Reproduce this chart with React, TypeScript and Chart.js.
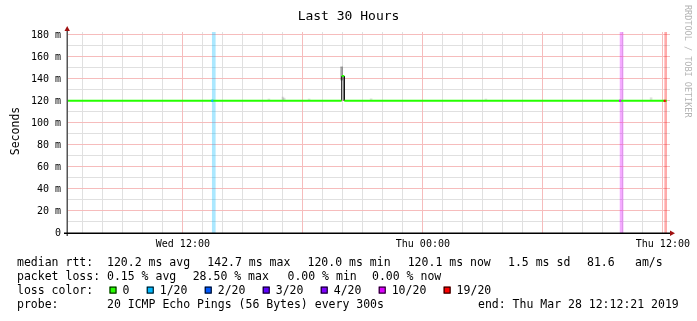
import React, { useEffect, useRef } from 'react';
import { Chart, registerables } from 'chart.js';

Chart.register(...registerables);

// ---------- text ----------
const titleText = 'Last 30 Hours';
const yAxisTitle = 'Seconds';
const watermark = 'RRDTOOL / TOBI OETIKER';

// ---------- axes (hours counted from Wed 00:00) ----------
const startHour = 6.206; // Wed 06:12:21
const endHour = 36.206; // Thu 12:12:21
const yMax = 182.7; // milliseconds
const yTicks = [0, 10, 20, 30, 40, 50, 60, 70, 80, 90, 100, 110, 120, 130, 140, 150, 160, 170, 180];
const hourTicks = [7, 8, 9, 10, 11, 12, 13, 14, 15, 16, 17, 18, 19, 20, 21, 22, 23, 24, 25, 26, 27, 28, 29, 30, 31, 32, 33, 34, 35, 36];
const xLabelHours = [12, 24, 36];
const xLabelTexts = ['Wed 12:00', 'Thu 00:00', 'Thu 12:00'];

// ---------- median rtt (ms) ----------
const medianHours = [6.21, 8, 10, 12, 14, 16, 18, 19.94, 19.94, 19.94, 20.07, 20.07, 20.07, 22, 24, 26, 28, 30, 32, 34, 36.2];
const medianValues = [120.2, 120.2, 120.1, 120.2, 120.2, 120.2, 120.1, 120.2, null, 142.7, 142.7, null, 120.2, 120.2, 120.1, 120.2, 120.2, 120.2, 120.1, 120.2, 120.1];

// spike edges (drawn dark)
const spikeHours = [19.94, 19.94, 19.94, 20.07, 20.07];
const spikeValues = [120.2, 142.7, null, 142.7, 120.2];

// smoke (spread of pings)
const smokeHours = [16.35, 17.05, 17.12, 18.36, 19.99, 21.46, 27.2, 35.46];
const smokeLow = [120.4, 120.4, 120.4, 120.4, 139.0, 120.4, 120.4, 120.4];
const smokeHigh = [121.8, 123.6, 122.6, 121.8, 151.0, 122.0, 121.8, 123.0];

// loss events
const lossHours = [13.47, 33.86, 36.09];
const lossEventLevels = ['1/20', '10/20', '19/20'];
const lossEventMedian = [120.2, 120.2, 120.1];

// loss colour legend
const lossLevelLabels = ['0', '1/20', '2/20', '3/20', '4/20', '10/20', '19/20'];
const lossLevelColors = ['#26ff00', '#00b8ff', '#0059ff', '#5e00ff', '#7e00ff', '#dd00ff', '#ff0000'];

// statistics
const rttLabel = 'median rtt:';
const rttStats = ['120.2 ms avg', '142.7 ms max', '120.0 ms min', '120.1 ms now', '1.5 ms sd', '81.6', 'am/s'];
const lossLabel = 'packet loss:';
const lossStats = ['0.15 % avg', '28.50 % max', '0.00 % min', '0.00 % now'];
const colorLabel = 'loss color:';
const probeLabel = 'probe:';
const probeText = '20 ICMP Echo Pings (56 Bytes) every 300s';
const endText = 'end: Thu Mar 28 12:12:21 2019';

// ---------- styles ----------
const MONO = '"DejaVu Sans Mono", monospace';
const W = 697;
const H = 321;
const MINOR_GRID = '#e0e0e0';
const MAJOR_GRID = '#f6bcbc';

function levelColor(level: string) {
  return lossLevelColors[lossLevelLabels.indexOf(level)];
}
function lighten(hex: string, a: number) {
  const r = parseInt(hex.slice(1, 3), 16);
  const g = parseInt(hex.slice(3, 5), 16);
  const b = parseInt(hex.slice(5, 7), 16);
  return `rgba(${r},${g},${b},${a})`;
}

const gridPlugin = {
  id: 'rrdGrid',
  beforeDatasetsDraw(chart: any) {
    const ctx = chart.ctx as CanvasRenderingContext2D;
    const area = chart.chartArea;
    const xs = chart.scales.x;
    const ys = chart.scales.y;
    ctx.save();
    for (const pass of [0, 1]) {
      hourTicks.forEach((h) => {
        const major = h % 6 === 0;
        if ((pass === 1) !== major) return;
        const px = Math.floor(xs.getPixelForValue(h));
        ctx.fillStyle = major ? MAJOR_GRID : MINOR_GRID;
        ctx.fillRect(px, area.top, 1, area.bottom - area.top);
      });
      yTicks.forEach((v) => {
        const major = v % 20 === 0;
        if ((pass === 1) !== major) return;
        const py = Math.floor(ys.getPixelForValue(v));
        ctx.fillStyle = major ? MAJOR_GRID : MINOR_GRID;
        ctx.fillRect(area.left, py, area.right - area.left + 3, 1);
      });
    }
    ctx.restore();
  },
};

const decorPlugin = {
  id: 'rrdDecor',
  afterDraw(chart: any) {
    const ctx = chart.ctx as CanvasRenderingContext2D;
    const area = chart.chartArea;
    ctx.save();

    // axes
    ctx.fillStyle = '#555';
    ctx.fillRect(area.left - 0.5, area.top - 4, 1.5, area.bottom - area.top + 7);
    ctx.fillStyle = '#000';
    ctx.fillRect(area.left - 3, area.bottom - 0.5, area.right - area.left + 6, 1.5);
    // arrows
    ctx.fillStyle = '#a01010';
    ctx.beginPath();
    ctx.moveTo(area.left + 0.2, area.top - 6);
    ctx.lineTo(area.left - 2.5, area.top - 1);
    ctx.lineTo(area.left + 2.9, area.top - 1);
    ctx.closePath();
    ctx.fill();
    ctx.beginPath();
    ctx.moveTo(area.right + 8, area.bottom + 0.2);
    ctx.lineTo(area.right + 3, area.bottom - 2.5);
    ctx.lineTo(area.right + 3, area.bottom + 2.9);
    ctx.closePath();
    ctx.fill();

    // title
    ctx.fillStyle = '#000';
    ctx.font = `13px ${MONO}`;
    ctx.textAlign = 'center';
    ctx.textBaseline = 'alphabetic';
    ctx.fillText(titleText, 348.5, 20);

    // y axis title
    ctx.save();
    ctx.translate(18.5, 131);
    ctx.rotate(-Math.PI / 2);
    ctx.font = `11.5px ${MONO}`;
    ctx.textAlign = 'center';
    ctx.fillText(yAxisTitle, 0, 0);
    ctx.restore();

    // watermark
    ctx.save();
    ctx.translate(684.5, 5);
    ctx.rotate(Math.PI / 2);
    ctx.font = `8.5px ${MONO}`;
    ctx.fillStyle = '#b4b4b4';
    ctx.textAlign = 'left';
    ctx.fillText(watermark, 0, 0);
    ctx.restore();

    // legend rows
    ctx.font = `11.5px ${MONO}`;
    ctx.textAlign = 'left';
    ctx.fillStyle = '#000';
    const rowY = [265.5, 279.7, 293.6, 307.5];
    const labelX = 17;
    const rttX = [107, 207.3, 307.5, 407.7, 508, 587, 635];
    const lossX = [107, 192.7, 287.5, 372];

    ctx.fillText(rttLabel, labelX, rowY[0]);
    rttStats.forEach((s, i) => ctx.fillText(s, rttX[i], rowY[0]));
    ctx.fillText(lossLabel, labelX, rowY[1]);
    lossStats.forEach((s, i) => ctx.fillText(s, lossX[i], rowY[1]));
    ctx.fillText(colorLabel, labelX, rowY[2]);
    let x = 109.5;
    lossLevelLabels.forEach((lbl, i) => {
      ctx.fillStyle = lossLevelColors[i];
      ctx.fillRect(x, rowY[2] - 7, 7, 7);
      ctx.strokeStyle = '#000';
      ctx.lineWidth = 1;
      ctx.strokeRect(x + 0.5, rowY[2] - 6.5, 6, 6);
      ctx.fillStyle = '#000';
      ctx.fillText(lbl, x + 13, rowY[2]);
      x = x + 13 + ctx.measureText(lbl).width + 17.3;
    });
    ctx.fillText(probeLabel, labelX, rowY[3]);
    ctx.fillText(probeText, 107, rowY[3]);
    ctx.fillText(endText, 478, rowY[3]);

    ctx.restore();
  },
};

export default function App() {
  const ref = useRef<HTMLCanvasElement | null>(null);

  useEffect(() => {
    if (!ref.current) return;
    const chart = new Chart(ref.current, {
      type: 'bar',
      data: {
        datasets: [
          {
            type: 'line',
            label: 'median',
            data: medianHours.map((h, i) => ({ x: h, y: medianValues[i] })),
            borderColor: lossLevelColors[0],
            borderWidth: 2,
            pointRadius: 0,
            spanGaps: false,
            order: 0,
          } as any,
          {
            type: 'scatter',
            label: 'loss marks',
            data: lossHours.map((h, i) => ({ x: h, y: lossEventMedian[i] })),
            pointStyle: 'rect',
            pointRadius: 1.5,
            borderWidth: 0,
            backgroundColor: lossEventLevels.map((l) => levelColor(l)),
            order: -1,
          } as any,
          {
            type: 'line',
            label: 'spike',
            data: spikeHours.map((h, i) => ({ x: h, y: spikeValues[i] })),
            borderColor: '#111',
            borderWidth: 1,
            pointRadius: 0,
            spanGaps: false,
            order: 1,
          } as any,
          {
            type: 'bar',
            label: 'smoke',
            data: smokeHours.map((h, i) => ({ x: h, y: [smokeLow[i], smokeHigh[i]] })),
            backgroundColor: smokeHours.map((_, i) => (smokeHigh[i] - smokeLow[i] > 10 ? 'rgba(0,0,0,0.35)' : 'rgba(0,0,0,0.12)')),
            borderWidth: 0,
            barThickness: 2,
            order: 2,
          } as any,
          {
            type: 'bar',
            label: 'loss',
            data: lossHours.map((h) => ({ x: h, y: [0, yMax] })),
            backgroundColor: lossEventLevels.map((l) => lighten(levelColor(l), 0.33)),
            borderWidth: 0,
            barThickness: 3,
            order: 3,
          } as any,
        ],
      },
      options: {
        animation: false,
        responsive: false,
        events: [],
        layout: { padding: { top: 32, right: 30, left: 0, bottom: 0 } },
        plugins: {
          legend: { display: false },
          tooltip: { enabled: false },
          title: { display: false },
        },
        scales: {
          x: {
            type: 'linear',
            min: startHour,
            max: endHour,
            offset: false,
            afterBuildTicks: (s: any) => {
              s.ticks = hourTicks.map((v) => ({ value: v }));
            },
            afterFit: (s: any) => {
              s.height = 88;
            },
            grid: { display: false, offset: false, drawTicks: false },
            border: { display: false },
            ticks: {
              autoSkip: false,
              maxRotation: 0,
              minRotation: 0,
              padding: 5,
              color: '#000',
              font: { family: MONO, size: 10 },
              callback: (v: any) => {
                const i = xLabelHours.indexOf(Number(v));
                return i >= 0 ? xLabelTexts[i] : '';
              },
            },
          },
          y: {
            type: 'linear',
            min: 0,
            max: yMax,
            afterBuildTicks: (s: any) => {
              s.ticks = yTicks.map((v) => ({ value: v }));
            },
            afterFit: (s: any) => {
              s.width = 67;
            },
            grid: { display: false, drawTicks: false },
            border: { display: false },
            ticks: {
              padding: 6,
              color: '#000',
              font: { family: MONO, size: 10 },
              callback: (v: any) => {
                const n = Number(v);
                if (n % 20 !== 0) return '';
                return n === 0 ? '0' : `${n} m`;
              },
            },
          },
        },
      } as any,
      plugins: [gridPlugin, decorPlugin],
    });
    return () => chart.destroy();
  }, []);

  return (
    <div style={{ position: 'fixed', left: 0, top: 0, width: W, height: H, background: '#fff' }}>
      <canvas ref={ref} width={W} height={H} style={{ width: W, height: H, display: 'block' }} />
    </div>
  );
}
